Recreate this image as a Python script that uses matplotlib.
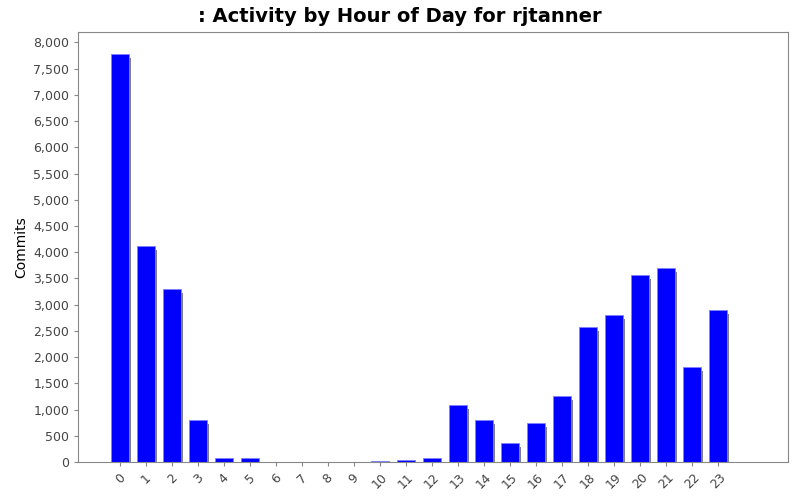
import matplotlib
matplotlib.use("Agg")
import matplotlib.pyplot as plt
from matplotlib.ticker import FuncFormatter, MultipleLocator

hours = [str(h) for h in range(24)]
commits = [7780, 4120, 3300, 800, 75, 85, 5, 2, 1, 2, 10, 30, 70,
           1085, 800, 365, 745, 1260, 2575, 2800, 3565, 3695, 1815, 2900]

fig = plt.figure(figsize=(8, 5), dpi=100)
ax = fig.add_axes([0.098, 0.076, 0.887, 0.86])
x = list(range(24))
w = 0.7
ax.bar([i + 0.08 for i in x], [c - 80 if c > 80 else 0 for c in commits], width=w, color="#808080", zorder=1)
ax.bar(x, commits, width=w, color="#0000ff", edgecolor="#8080ff", linewidth=0.6, zorder=2)
ax.set_xlim(-1.6, 25.7)
ax.set_ylim(0, 8200)
ax.yaxis.set_major_locator(MultipleLocator(500))
ax.yaxis.set_major_formatter(FuncFormatter(lambda v, p: f"{int(v):,}"))
ax.set_xticks(x)
ax.set_xticklabels(hours, rotation=45, fontsize=9, color="#444444")
ax.tick_params(axis="y", labelsize=9, colors="#444444")
ax.tick_params(length=3, color="#888888")
for s in ax.spines.values():
    s.set_color("#888888")
ax.set_ylabel("Commits", fontsize=10)
fig.suptitle(": Activity by Hour of Day for rjtanner", fontsize=14, fontweight="bold", y=0.985)
fig.savefig("out.png")
